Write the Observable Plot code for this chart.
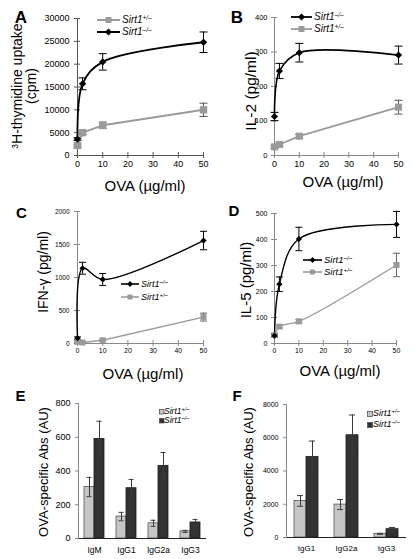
<!DOCTYPE html>
<html><head><meta charset="utf-8">
<script src="https://cdn.jsdelivr.net/npm/d3@7"></script>
<script src="https://cdn.jsdelivr.net/npm/@observablehq/plot@0.6"></script>
<style>
body{margin:0;background:#fff;}
#fig{position:relative;width:412px;height:559px;overflow:hidden;font-family:"Liberation Sans",Arial,sans-serif;color:#000;background:#fff;}
#fig svg{position:absolute;overflow:visible;}
.t{position:absolute;white-space:nowrap;line-height:1;}
.t sup{font-size:0.6em;vertical-align:0.5em;line-height:0;}
.lg{position:absolute;white-space:nowrap;line-height:1;transform:translateY(-50%);}
.lg sup{font-size:0.65em;vertical-align:0.45em;line-height:0;font-style:italic;}
</style></head><body><div id="fig"></div>
<script>
// ---------- data ----------
const ovaDoses = [0, 2, 10, 50];
const xTickValues = [0, 10, 20, 30, 40, 50];

const thymHet = [2200, 5000, 6600, 10000];
const thymHetErr = [300, 400, 700, 1450];
const thymKo = [3600, 15700, 20500, 24800];
const thymKoErr = [300, 1300, 1800, 2250];
const thymTicks = [0, 5000, 10000, 15000, 20000, 25000, 30000];

const il2Ko = [113, 245, 298, 291];
const il2KoErr = [12, 22, 27, 26];
const il2Het = [25, 32, 56, 140];
const il2HetErr = [4, 5, 5, 20];
const il2Ticks = [0, 100, 200, 300, 400];

const ifngKo = [80, 1140, 970, 1560];
const ifngKoErr = [20, 90, 90, 140];
const ifngHet = [25, 15, 50, 400];
const ifngHetErr = [5, 5, 10, 60];
const ifngTicks = [0, 500, 1000, 1500, 2000];

const il5Ko = [30, 228, 402, 458];
const il5KoErr = [5, 28, 45, 50];
const il5Het = [32, 65, 85, 302];
const il5HetErr = [5, 5, 8, 45];
const il5Ticks = [0, 100, 200, 300, 400, 500];

const isotypesE = ["IgM", "IgG1", "IgG2a", "IgG3"];
const absHetE = [305, 130, 90, 42];
const absHetEErr = [57, 25, 18, 6];
const absKoE = [590, 298, 430, 95];
const absKoEErr = [105, 52, 80, 18];
const absTicksE = [0, 200, 400, 600, 800];

const isotypesF = ["IgG1", "IgG2a", "IgG3"];
const absHetF = [2200, 1980, 220];
const absHetFErr = [320, 300, 30];
const absKoF = [4850, 6150, 500];
const absKoFErr = [950, 1220, 100];
const absTicksF = [0, 2000, 4000, 6000, 8000];

const hetLabel = "<i>Sirt1</i><sup>+/–</sup>";
const koLabel = "<i>Sirt1</i><sup>–/–</sup>";

// ---------- helpers ----------
const fig = document.getElementById("fig");
const FONT = '"Liberation Sans", Arial, sans-serif';
const GRAY = "#9a9a9a";
const cap = {draw(ctx, size) { const r = Math.sqrt(size / Math.PI); ctx.moveTo(-r, 0); ctx.lineTo(r, 0); }};
const rowsOf = (vals, errs) => ovaDoses.map((d, i) => ({dose: d, v: vals[i], e: errs[i]}));

function place(el, left, top) {
  el.style.position = "absolute";
  el.style.left = left + "px";
  el.style.top = top + "px";
  el.style.overflow = "visible";
  fig.appendChild(el);
}

function linePanel(c) {
  const marks = [
    Plot.ruleY([0], {stroke: c.axisColor}),
    Plot.ruleX([0], {stroke: c.axisColor}),
    Plot.axisX({ticks: xTickValues, tickSize: 6, dy: -3, tickPadding: 2, fontSize: c.fsX, stroke: c.axisColor, fill: "#000", label: null, tickFormat: d => String(d)}),
    Plot.axisY({ticks: c.yTicks, tickSize: 6, dx: 3, tickPadding: c.padY, fontSize: c.fsY, stroke: c.axisColor, fill: "#000", label: null, tickFormat: d => String(d)})
  ];
  for (const s of c.series) {
    marks.push(
      Plot.ruleX(s.rows, {x: "dose", y1: d => d.v - d.e, y2: d => d.v + d.e, stroke: s.err, strokeWidth: 1}),
      Plot.dot(s.rows, {x: "dose", y: d => d.v + d.e, symbol: cap, r: c.capR, stroke: s.err, strokeWidth: 1}),
      Plot.dot(s.rows, {x: "dose", y: d => d.v - d.e, symbol: cap, r: c.capR, stroke: s.err, strokeWidth: 1})
    );
  }
  for (const s of c.series) marks.push(Plot.line(s.rows, {x: "dose", y: "v", stroke: s.color, strokeWidth: s.sw, curve: s.curve}));
  for (const s of c.series) marks.push(Plot.dot(s.rows, {x: "dose", y: "v", symbol: s.symbol, r: s.r, fill: s.color, stroke: "none"}));
  const p = Plot.plot({
    width: c.width, height: c.height,
    marginTop: c.mt, marginRight: c.mr, marginBottom: c.mb, marginLeft: c.ml,
    x: {domain: [0, 50]}, y: {domain: c.yDomain},
    style: {fontFamily: FONT, background: "transparent", overflow: "visible"},
    marks
  });
  place(p, c.left, c.top);
}

function barPanel(c) {
  const het = c.cats.map((k, i) => ({c: k, g: "het", v: c.het[i], e: c.hetErr[i]}));
  const ko = c.cats.map((k, i) => ({c: k, g: "ko", v: c.ko[i], e: c.koErr[i]}));
  const all = het.concat(ko);
  const p = Plot.plot({
    width: c.width, height: c.height,
    marginTop: c.mt, marginRight: c.mr, marginBottom: c.mb, marginLeft: c.ml,
    fx: {domain: c.cats, padding: 0, label: null},
    x: {domain: ["het", "ko"], paddingInner: 0, paddingOuter: c.po, axis: null},
    y: {domain: c.yDomain},
    style: {fontFamily: FONT, background: "transparent", overflow: "visible"},
    marks: [
      Plot.barY(het, {fx: "c", x: "g", y: "v", fill: "#c6c6c6", stroke: "#555", strokeWidth: 0.8}),
      Plot.barY(ko, {fx: "c", x: "g", y: "v", fill: "#333", stroke: "#1a1a1a", strokeWidth: 0.8}),
      Plot.ruleX(all, {fx: "c", x: "g", y1: d => d.v - d.e, y2: d => d.v + d.e, stroke: "#3a3a3a"}),
      Plot.tickY(all, {fx: "c", x: "g", y: d => d.v + d.e, inset: c.capInset, stroke: "#3a3a3a"}),
      Plot.tickY(all, {fx: "c", x: "g", y: d => d.v - d.e, inset: c.capInset, stroke: "#3a3a3a"}),
      Plot.ruleY([0], {stroke: "#222"}),
      Plot.frame({anchor: "left", facetAnchor: "left", stroke: "#888"}),
      Plot.axisY({ticks: c.yTicks, tickSize: 4, dx: 1, tickPadding: 5, fontSize: c.fsY, stroke: "#888", fill: "#000", label: null, tickFormat: d => String(d)}),
      Plot.axisFx({anchor: "bottom", tickSize: 0, tickPadding: c.padX, fontSize: c.fsX, label: null})
    ]
  });
  place(p, c.left, c.top);
}

function text(html, cx, cy, size, opts = {}) {
  const d = document.createElement("div");
  d.className = "t";
  d.innerHTML = html;
  d.style.left = cx + "px";
  d.style.top = cy + "px";
  d.style.fontSize = size + "px";
  if (opts.bold) d.style.fontWeight = "bold";
  d.style.transform = "translate(-50%,-50%)" + (opts.rotate ? ` rotate(${opts.rotate}deg)` : "");
  fig.appendChild(d);
}

const SVGNS = "http://www.w3.org/2000/svg";
function svgEl(tag, attrs) { const e = document.createElementNS(SVGNS, tag); for (const k in attrs) e.setAttribute(k, attrs[k]); return e; }

function lineLegend(x0, x1, tx, fs, rows) {
  for (const r of rows) {
    const s = svgEl("svg", {width: x1 - x0, height: 12});
    s.style.left = x0 + "px"; s.style.top = (r.cy - 6) + "px";
    const w = x1 - x0, m = w / 2;
    s.appendChild(svgEl("line", {x1: 0, x2: w, y1: 6, y2: 6, stroke: r.color, "stroke-width": r.sw}));
    if (r.symbol === "square") s.appendChild(svgEl("rect", {x: m - r.size / 2, y: 6 - r.size / 2, width: r.size, height: r.size, fill: r.color}));
    else s.appendChild(svgEl("path", {d: `M${m},${6 - r.size / 2}L${m + r.size / 2},6L${m},${6 + r.size / 2}L${m - r.size / 2},6Z`, fill: r.color}));
    fig.appendChild(s);
    const d = document.createElement("div");
    d.className = "lg"; d.innerHTML = r.label;
    d.style.left = tx + "px"; d.style.top = r.cy + "px"; d.style.fontSize = fs + "px";
    fig.appendChild(d);
  }
}

function barLegend(sx, sz, tx, fs, rows) {
  for (const r of rows) {
    const s = svgEl("svg", {width: sz + 1, height: sz + 1});
    s.style.left = sx + "px"; s.style.top = (r.cy - sz / 2) + "px";
    s.appendChild(svgEl("rect", {x: 0.5, y: 0.5, width: sz, height: sz, fill: r.fill, stroke: "#444", "stroke-width": 0.7}));
    fig.appendChild(s);
    const d = document.createElement("div");
    d.className = "lg"; d.innerHTML = r.label;
    d.style.left = tx + "px"; d.style.top = r.cy + "px"; d.style.fontSize = fs + "px";
    fig.appendChild(d);
  }
}

// ---------- panels ----------
linePanel({left: 0, top: 0, width: 210, height: 175, mt: 18, mr: 7, mb: 20, ml: 77,
  yDomain: [0, 30000], yTicks: thymTicks, axisColor: "#555", fsX: 9, fsY: 9, padY: 5, capR: 4,
  series: [
    {rows: rowsOf(thymHet, thymHetErr), color: GRAY, err: "#555", symbol: "square", r: 4.2, sw: 2, curve: "linear"},
    {rows: rowsOf(thymKo, thymKoErr), color: "#000", err: "#000", symbol: "diamond2", r: 3.3, sw: 1.8, curve: "catmull-rom"}
  ]});

linePanel({left: 206, top: 0, width: 206, height: 175, mt: 17, mr: 14, mb: 20, ml: 68,
  yDomain: [0, 400], yTicks: il2Ticks, axisColor: "#888", fsX: 9, fsY: 7.5, padY: 4, capR: 4,
  series: [
    {rows: rowsOf(il2Het, il2HetErr), color: GRAY, err: "#555", symbol: "square", r: 4, sw: 1.8, curve: "linear"},
    {rows: rowsOf(il2Ko, il2KoErr), color: "#000", err: "#000", symbol: "diamond2", r: 3.2, sw: 1.6, curve: "catmull-rom"}
  ]});

linePanel({left: 0, top: 180, width: 210, height: 180, mt: 31, mr: 7, mb: 17, ml: 77,
  yDomain: [0, 2000], yTicks: ifngTicks, axisColor: "#888", fsX: 7, fsY: 6.5, padY: 5, capR: 3.5,
  series: [
    {rows: rowsOf(ifngHet, ifngHetErr), color: GRAY, err: "#666", symbol: "square", r: 3.4, sw: 1.4, curve: "linear"},
    {rows: rowsOf(ifngKo, ifngKoErr), color: "#000", err: "#000", symbol: "diamond2", r: 2.8, sw: 1.4, curve: "catmull-rom"}
  ]});

linePanel({left: 206, top: 180, width: 206, height: 180, mt: 33, mr: 16, mb: 17, ml: 68,
  yDomain: [0, 500], yTicks: il5Ticks, axisColor: "#888", fsX: 7, fsY: 7, padY: 4, capR: 3.5,
  series: [
    {rows: rowsOf(il5Het, il5HetErr), color: GRAY, err: "#666", symbol: "square", r: 3.4, sw: 1.4, curve: "catmull-rom"},
    {rows: rowsOf(il5Ko, il5KoErr), color: "#000", err: "#000", symbol: "diamond2", r: 2.8, sw: 1.4, curve: "catmull-rom"}
  ]});

barPanel({left: 0, top: 370, width: 210, height: 189, mt: 33, mr: 4, mb: 21, ml: 77,
  cats: isotypesE, het: absHetE, hetErr: absHetEErr, ko: absKoE, koErr: absKoEErr,
  yDomain: [0, 800], yTicks: absTicksE, fsY: 9, fsX: 8.5, padX: 8, po: 0.54, capInset: 2.5});

barPanel({left: 206, top: 370, width: 206, height: 189, mt: 34, mr: 6, mb: 22, ml: 79,
  cats: isotypesF, het: absHetF, hetErr: absHetFErr, ko: absKoF, koErr: absKoFErr,
  yDomain: [0, 8000], yTicks: absTicksF, fsY: 7, fsX: 8, padX: 8, po: 0.6, capInset: 3});

// ---------- text ----------
text("A", 21, 16.5, 17, {bold: true});
text("B", 237, 17, 17, {bold: true});
text("C", 21.5, 212, 15, {bold: true});
text("D", 234, 210, 15, {bold: true});
text("E", 20.5, 394.5, 15, {bold: true});
text("F", 237, 395, 15, {bold: true});

text("<sup>3</sup>H-thymidine uptake", 17, 86, 14, {rotate: -90});
text("(cpm)", 31, 86, 14, {rotate: -90});
text("IL-2 (pg/ml)", 251, 91, 15.5, {rotate: -90});
text("IFN-γ (pg/ml)", 43, 272, 14, {rotate: -90});
text("IL-5 (pg/ml)", 245, 280, 15, {rotate: -90});
text("OVA-specific Abs (AU)", 43, 472, 13, {rotate: -90});
text("OVA-specific Abs (AU)", 248, 472, 13, {rotate: -90});

text("OVA (µg/ml)", 145, 185, 15);
text("OVA (µg/ml)", 343, 181, 15);
text("OVA (µg/ml)", 143, 373, 15);
text("OVA (µg/ml)", 340, 370, 15);

// ---------- legends ----------
lineLegend(97, 120, 122, 10, [
  {cy: 20, color: GRAY, sw: 2, symbol: "square", size: 6, label: hetLabel},
  {cy: 32, color: "#000", sw: 2, symbol: "diamond", size: 7, label: koLabel}
]);
lineLegend(291, 312, 314, 10, [
  {cy: 17, color: "#000", sw: 1.8, symbol: "diamond", size: 7, label: koLabel},
  {cy: 29, color: GRAY, sw: 1.8, symbol: "square", size: 6, label: hetLabel}
]);
lineLegend(121, 139, 141, 9, [
  {cy: 284, color: "#000", sw: 1.6, symbol: "diamond", size: 6, label: koLabel},
  {cy: 297, color: GRAY, sw: 1.6, symbol: "square", size: 5, label: hetLabel}
]);
lineLegend(303, 322, 324, 9.5, [
  {cy: 260, color: "#000", sw: 1.6, symbol: "diamond", size: 6, label: koLabel},
  {cy: 272, color: GRAY, sw: 1.6, symbol: "square", size: 5, label: hetLabel}
]);
barLegend(159, 4.5, 164, 8.5, [
  {cy: 411, fill: "#c6c6c6", label: hetLabel},
  {cy: 420, fill: "#333", label: koLabel}
]);
barLegend(367, 5, 373, 9, [
  {cy: 413, fill: "#c6c6c6", label: hetLabel},
  {cy: 424, fill: "#333", label: koLabel}
]);
</script></body></html>
